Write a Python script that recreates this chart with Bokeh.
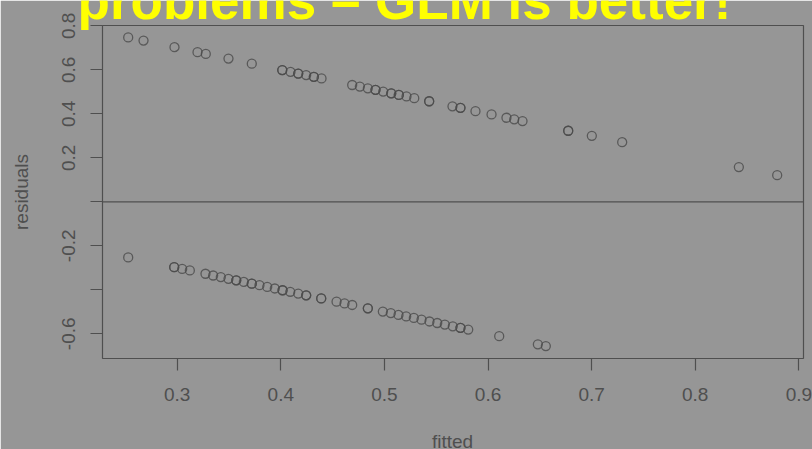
import math
from bokeh.plotting import figure
from bokeh.layouts import column
from bokeh.models import Span, Label, FixedTicker, Range1d
from bokeh.embed import file_html
from bokeh.resources import INLINE

# ---- data ----
upper_fitted = [0.2527, 0.2675, 0.2974, 0.3196, 0.3276, 0.3495, 0.3720, 0.4014, 0.4014,
                0.4094, 0.4168, 0.4168, 0.4245, 0.4319, 0.4319, 0.4393, 0.4689, 0.4763,
                0.4840, 0.4914, 0.4914, 0.4988, 0.5066, 0.5066, 0.5139, 0.5139, 0.5213,
                0.5288, 0.5432, 0.5432, 0.5657, 0.5734, 0.5734, 0.5879, 0.6034, 0.6178,
                0.6253, 0.6333, 0.6774, 0.6774, 0.7002, 0.7295, 0.8421, 0.8791]
upper_resid = [0.747, 0.733, 0.703, 0.680, 0.672, 0.651, 0.628, 0.599, 0.599,
               0.591, 0.583, 0.583, 0.576, 0.568, 0.568, 0.561, 0.531, 0.524,
               0.516, 0.509, 0.509, 0.501, 0.493, 0.493, 0.486, 0.486, 0.479,
               0.471, 0.457, 0.457, 0.434, 0.427, 0.427, 0.412, 0.397, 0.382,
               0.375, 0.367, 0.323, 0.323, 0.300, 0.271, 0.158, 0.121]
lower_fitted = [0.2527, 0.2971, 0.2971, 0.3048, 0.3122, 0.3273, 0.3347, 0.3421, 0.3495,
                0.3570, 0.3570, 0.3643, 0.3720, 0.3720, 0.3794, 0.3869, 0.3942, 0.4017,
                0.4017, 0.4091, 0.4168, 0.4245, 0.4245, 0.4390, 0.4390, 0.4538, 0.4615,
                0.4689, 0.4840, 0.4840, 0.4985, 0.5062, 0.5136, 0.5210, 0.5284, 0.5358,
                0.5435, 0.5510, 0.5583, 0.5660, 0.5734, 0.5734, 0.5809, 0.6108, 0.6481,
                0.6558]
lower_resid = [-0.253, -0.297, -0.297, -0.305, -0.312, -0.327, -0.335, -0.342, -0.350,
               -0.357, -0.357, -0.364, -0.372, -0.372, -0.379, -0.387, -0.394, -0.402,
               -0.402, -0.409, -0.417, -0.425, -0.425, -0.439, -0.439, -0.454, -0.462,
               -0.469, -0.484, -0.484, -0.499, -0.506, -0.514, -0.521, -0.528, -0.536,
               -0.544, -0.551, -0.558, -0.566, -0.573, -0.573, -0.581, -0.611, -0.648,
               -0.656]

x_ticks = [0.3, 0.4, 0.5, 0.6, 0.7, 0.8, 0.9]
y_ticks = [-0.6, -0.4, -0.2, 0.0, 0.2, 0.4, 0.6, 0.8]
y_tick_labels = {-0.6: "-0.6", -0.4: "", -0.2: "-0.2", 0.0: "", 0.2: "0.2",
                 0.4: "0.4", 0.6: "0.6", 0.8: "0.8"}
x_tick_labels = {0.3: "0.3", 0.4: "0.4", 0.5: "0.5", 0.6: "0.6", 0.7: "0.7",
                 0.8: "0.8", 0.9: "0.9"}
title_text = "problems \u2013 GLM is better!"
x_label = "fitted"
y_label = "residuals"

# ---- style ----
BG = "#969696"
FG = "#4f4f4f"
PT = "#4a4a4a"
FONT = "Liberation Sans"
W, H = 812, 449

p = figure(width=W, height=H, output_backend="svg", toolbar_location=None,
           x_range=Range1d(0.2279, 0.9045), y_range=Range1d(-0.7123, 0.8014),
           min_border_left=102, min_border_right=9, min_border_top=25,
           min_border_bottom=91)
p.background_fill_color = BG
p.border_fill_color = BG
p.outline_line_color = FG
p.outline_line_width = 1.2
p.grid.visible = False

xa = p.xaxis[0]
xa.ticker = FixedTicker(ticks=x_ticks)
xa.major_label_overrides = x_tick_labels
xa.axis_line_color = None
xa.major_tick_out = 12
xa.major_tick_in = 0
xa.minor_tick_line_color = None
xa.major_tick_line_color = FG
xa.major_tick_line_width = 1.2
xa.major_label_text_font = FONT
xa.major_label_text_font_size = "19px"
xa.major_label_text_color = FG
xa.major_label_standoff = 17

ya = p.yaxis[0]
ya.ticker = FixedTicker(ticks=y_ticks)
ya.major_label_overrides = y_tick_labels
ya.axis_line_color = None
ya.major_tick_out = 12
ya.major_tick_in = 0
ya.minor_tick_line_color = None
ya.major_tick_line_color = FG
ya.major_tick_line_width = 1.2
ya.major_label_text_font = FONT
ya.major_label_text_font_size = "19px"
ya.major_label_text_color = FG
ya.major_label_orientation = "vertical"
ya.major_label_standoff = 15
ya.axis_label = y_label
ya.axis_label_text_font = FONT
ya.axis_label_text_font_size = "19px"
ya.axis_label_text_font_style = "normal"
ya.axis_label_text_color = FG
ya.axis_label_standoff = 28

p.add_layout(Span(location=0, dimension="width", line_color=FG, line_width=1.2))

p.scatter(upper_fitted, upper_resid, marker="circle", size=9, fill_color=None,
          line_color=PT, line_width=1.3, line_alpha=0.8)
p.scatter(lower_fitted, lower_resid, marker="circle", size=9, fill_color=None,
          line_color=PT, line_width=1.3, line_alpha=0.8)

# ---- transparent overlay (pixel coordinates) carrying the texts that overlap the box ----
ov = figure(width=W, height=H, output_backend="svg", toolbar_location=None,
            x_range=Range1d(0, W), y_range=Range1d(H, 0),
            x_axis_type=None, y_axis_type=None,
            min_border=0, min_border_left=0, min_border_right=0,
            min_border_top=0, min_border_bottom=0)
ov.background_fill_alpha = 0
ov.border_fill_alpha = 0
ov.outline_line_color = None
ov.styles = {"margin-top": f"-{H}px"}

# keep each figure's own frame (no cross-figure frame alignment)
for fig in (p, ov):
    if "frame_align" in fig.properties():
        fig.frame_align = False

ov.add_layout(Label(x=452, y=440.7, text=x_label, text_font=FONT,
                    text_font_size="19px", text_color=FG, text_align="center",
                    text_baseline="middle"))
ov.add_layout(Label(x=404, y=0, text=title_text, text_font=FONT,
                    text_font_size="53px", text_font_style="bold",
                    text_color="#ffff00", text_align="center",
                    text_baseline="middle"))

page = column(p, ov, spacing=0)
open("out.html", "w").write(file_html(page, INLINE))
